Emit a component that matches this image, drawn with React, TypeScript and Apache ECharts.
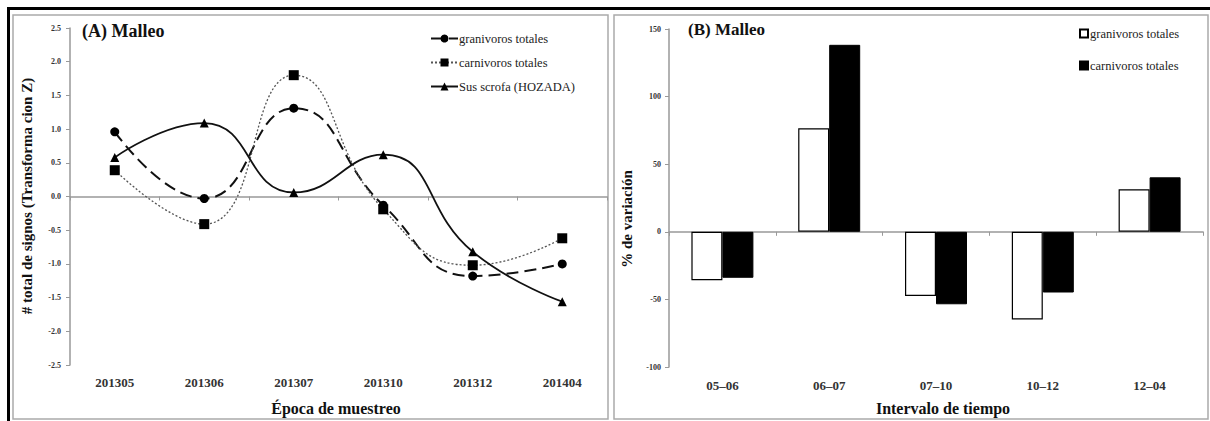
import React, { useEffect, useRef } from "react";
import * as echarts from "echarts";

const epochs = ["201305", "201306", "201307", "201310", "201312", "201404"];
const granivorosZ = [0.96, -0.03, 1.31, -0.13, -1.18, -1.0];
const carnivorosZ = [0.39, -0.41, 1.8, -0.19, -1.02, -0.62];
const susScrofaZ = [0.58, 1.09, 0.06, 0.62, -0.82, -1.56];

const intervals = ["05\u201306", "06\u201307", "07\u201310", "10\u201312", "12\u201304"];
const granivorosPct = [-35.8, 76.6, -47.4, -64.9, 31.4];
const carnivorosPct = [-34, 138.3, -53.6, -44.9, 40.3];

const SERIF = "Liberation Serif";

export default function App() {
  const ref = useRef<HTMLDivElement>(null);
  useEffect(() => {
    if (!ref.current) return;
    const chart = echarts.init(ref.current, null, { renderer: "svg" });
    const axisColor = "#999";
    const tickLabel = { fontFamily: SERIF, fontWeight: "bold" as const, color: "#333" };
    const txt = (size: number) => ({ fontFamily: SERIF, fontSize: size, fontWeight: "bold" as const, fill: "#111" });
    chart.setOption({
      animation: false,
      backgroundColor: "#fff",
      textStyle: { fontFamily: SERIF },
      grid: [
        { left: 70, right: 603, top: 28, bottom: 56 },
        { left: 669, right: 7, top: 29, bottom: 54 },
      ],
      legend: [
        {
          data: ["granivoros totales", "carnivoros totales", "Sus scrofa (HOZADA)"],
          orient: "vertical",
          left: 430,
          top: 32,
          padding: 0,
          itemWidth: 27,
          itemHeight: 10,
          itemGap: 11,
          textStyle: { fontFamily: SERIF, fontSize: 12.5, color: "#222", padding: [0, 0, 0, -4] },
        },
        {
          data: [
            { name: "granivoros totales %", icon: "rect" },
            { name: "carnivoros totales %", icon: "rect" },
          ],
          formatter: (n: string) => n.replace(" %", ""),
          orient: "vertical",
          left: 1079,
          top: 27,
          padding: 0,
          itemWidth: 8,
          itemHeight: 8,
          itemGap: 19,
          textStyle: { fontFamily: SERIF, fontSize: 12.5, color: "#222", padding: [0, 0, 0, -3] },
        },
      ],
      xAxis: [
        {
          gridIndex: 0,
          type: "category",
          data: epochs,
          axisLine: { onZero: true, lineStyle: { color: axisColor, width: 1.5 } },
          axisTick: { show: true, alignWithLabel: false, length: 4, lineStyle: { color: axisColor } },
          axisLabel: { show: false },
        },
        {
          gridIndex: 0,
          type: "category",
          data: epochs,
          position: "bottom",
          axisLine: { show: false, onZero: false },
          axisTick: { show: false },
          axisLabel: { ...tickLabel, fontSize: 13, margin: 11 },
        },
        {
          gridIndex: 1,
          type: "category",
          data: intervals,
          axisLine: { onZero: true, lineStyle: { color: axisColor, width: 1.5 } },
          axisTick: { show: true, length: 4, lineStyle: { color: axisColor } },
          axisLabel: { show: false },
        },
        {
          gridIndex: 1,
          type: "category",
          data: intervals,
          position: "bottom",
          axisLine: { show: false, onZero: false },
          axisTick: { show: false },
          axisLabel: { ...tickLabel, fontSize: 13, margin: 12 },
        },
      ],
      yAxis: [
        {
          gridIndex: 0,
          type: "value",
          min: -2.5,
          max: 2.5,
          interval: 0.5,
          splitLine: { show: false },
          axisLine: { show: true, lineStyle: { color: axisColor, width: 1.5 } },
          axisTick: { show: true, length: 4, lineStyle: { color: axisColor } },
          axisLabel: { ...tickLabel, fontSize: 8, margin: 9, formatter: (v: number) => v.toFixed(1) },
        },
        {
          gridIndex: 1,
          type: "value",
          min: -100,
          max: 150,
          interval: 50,
          splitLine: { show: false },
          axisLine: { show: true, lineStyle: { color: axisColor, width: 1.5 } },
          axisTick: { show: true, length: 4, lineStyle: { color: axisColor } },
          axisLabel: { ...tickLabel, fontSize: 8, margin: 8 },
        },
      ],
      series: [
        {
          name: "granivoros totales",
          type: "line",
          xAxisIndex: 0,
          yAxisIndex: 0,
          data: granivorosZ,
          smooth: 0.5,
          symbol: "circle",
          symbolSize: 9,
          itemStyle: { color: "#000" },
          lineStyle: { color: "#111", width: 2, type: [12, 6] },
        },
        {
          name: "carnivoros totales",
          type: "line",
          xAxisIndex: 0,
          yAxisIndex: 0,
          data: carnivorosZ,
          smooth: 0.5,
          symbol: "rect",
          symbolSize: 10,
          itemStyle: { color: "#000" },
          lineStyle: { color: "#555", width: 1.3, type: [2, 2] },
        },
        {
          name: "Sus scrofa (HOZADA)",
          type: "line",
          xAxisIndex: 0,
          yAxisIndex: 0,
          data: susScrofaZ,
          smooth: 0.5,
          symbol: "triangle",
          symbolSize: 9,
          itemStyle: { color: "#000" },
          lineStyle: { color: "#111", width: 1.8 },
        },
        {
          name: "granivoros totales %",
          type: "bar",
          xAxisIndex: 2,
          yAxisIndex: 1,
          data: granivorosPct,
          barWidth: 31,
          barGap: "0%",
          itemStyle: { color: "#fff", borderColor: "#000", borderWidth: 1.2 },
        },
        {
          name: "carnivoros totales %",
          type: "bar",
          xAxisIndex: 2,
          yAxisIndex: 1,
          data: carnivorosPct,
          barWidth: 31,
          barGap: "0%",
          itemStyle: { color: "#000", borderColor: "#000", borderWidth: 1 },
        },
      ],
      graphic: [
        { type: "rect", shape: { x: 13, y: 15, width: 595, height: 404 }, style: { fill: "none", stroke: "#aaa", lineWidth: 1.5 }, silent: true },
        { type: "rect", shape: { x: 614, y: 15, width: 594, height: 404 }, style: { fill: "none", stroke: "#aaa", lineWidth: 1.5 }, silent: true },
        { type: "rect", shape: { x: 7, y: 7, width: 1203, height: 3 }, style: { fill: "#000" }, silent: true },
        { type: "rect", shape: { x: 7, y: 7, width: 3, height: 414 }, style: { fill: "#000" }, silent: true },
        {
          type: "text", x: 82, y: 31,
          style: { text: "(A) Malleo", ...txt(18), verticalAlign: "middle" },
        },
        {
          type: "text", x: 688, y: 29,
          style: { text: "(B) Malleo", ...txt(17), verticalAlign: "middle" },
        },
        {
          type: "text", x: 27, y: 196, rotation: Math.PI / 2,
          style: { text: "# total de signos (Transforma cion Z)", ...txt(15), align: "center", verticalAlign: "middle" },
        },
        {
          type: "text", x: 627, y: 219, rotation: Math.PI / 2,
          style: { text: "% de variación", ...txt(15), align: "center", verticalAlign: "middle" },
        },
        {
          type: "text", x: 336, y: 408,
          style: { text: "Época de muestreo", ...txt(16), align: "center", verticalAlign: "middle" },
        },
        {
          type: "text", x: 943, y: 408,
          style: { text: "Intervalo de tiempo", ...txt(16), align: "center", verticalAlign: "middle" },
        },
      ],
    });
    return () => chart.dispose();
  }, []);
  return (
    <div
      ref={ref}
      style={{ position: "fixed", left: 0, top: 0, width: 1210, height: 421 }}
    />
  );
}
